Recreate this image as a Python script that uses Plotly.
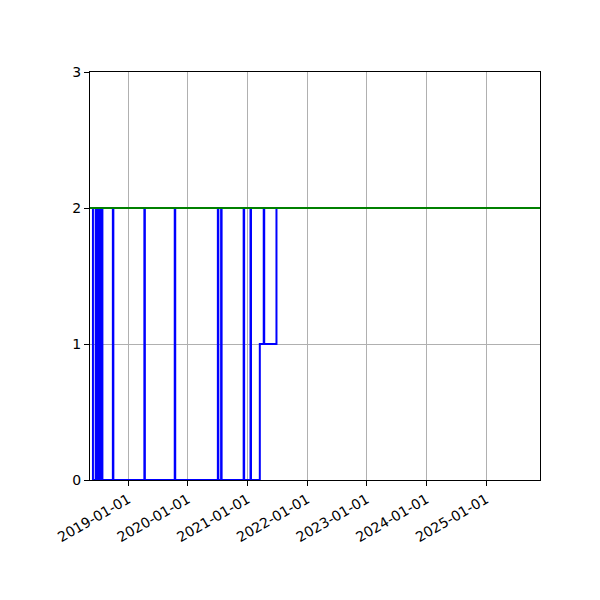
import plotly.graph_objects as go

# Blue step series (dates, values)
blue_dates = [
    "2018-05-25", "2018-05-30",
    "2018-06-16", "2018-06-19", "2018-06-22", "2018-06-25", "2018-06-28", "2018-07-01",
    "2018-07-04", "2018-07-07", "2018-07-10", "2018-07-14", "2018-07-18", "2018-07-22",
    "2018-07-25", "2018-07-27",
    "2018-09-29", "2018-10-02",
    "2019-04-10", "2019-04-13",
    "2019-10-13", "2019-10-16",
    "2020-07-03", "2020-07-06",
    "2020-07-23", "2020-07-26",
    "2020-12-08", "2020-12-11",
    "2021-01-19", "2021-01-22",
    "2021-03-17",
    "2021-04-10", "2021-04-13",
    "2021-06-27",
    "2025-11-27",
]
blue_values = [
    2, 0,
    2, 0, 2, 0, 2, 0,
    2, 0, 2, 0, 2, 0,
    2, 0,
    2, 0,
    2, 0,
    2, 0,
    2, 0,
    2, 0,
    2, 0,
    2, 0,
    1,
    2, 1,
    2,
    2,
]

# Green constant line
green_dates = ["2018-05-12", "2025-11-27"]
green_values = [2, 2]

x_range = ["2018-05-12", "2025-11-27"]
y_ticks = [0, 1, 2, 3]

fig = go.Figure()
fig.add_trace(go.Scatter(
    x=blue_dates, y=blue_values, mode="lines",
    line=dict(color="#0000ff", width=2, shape="hv"),
    showlegend=False,
))
fig.add_trace(go.Scatter(
    x=green_dates, y=green_values, mode="lines",
    line=dict(color="#008000", width=2),
    showlegend=False,
))

axis_common = dict(
    showline=True, linecolor="black", linewidth=1, mirror=True,
    ticks="outside", ticklen=5, tickcolor="black", tickwidth=1,
    showgrid=True, gridcolor="#b0b0b0", gridwidth=1,
    zeroline=False, automargin=False,
    tickfont=dict(family="DejaVu Sans", size=14, color="black"),
)

fig.update_layout(
    width=600, height=600,
    margin=dict(l=82, r=68, t=64, b=128),
    plot_bgcolor="white", paper_bgcolor="white",
    xaxis=dict(
        range=x_range, type="date",
        tick0="2019-01-01", dtick="M12", tickformat="%Y-%m-%d",
        tickangle=-30,
        **axis_common,
    ),
    yaxis=dict(
        range=[0, 3], tickvals=y_ticks,
        **axis_common,
    ),
)

fig.write_html("out.html")
